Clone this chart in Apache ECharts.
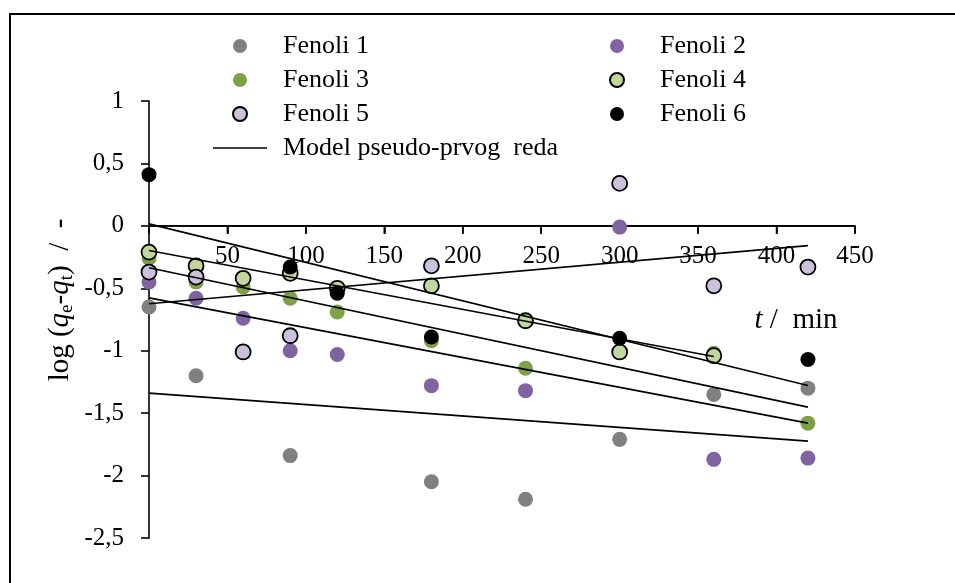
<!DOCTYPE html>
<html>
<head>
<meta charset="utf-8">
<script src="https://cdn.jsdelivr.net/npm/echarts@6/dist/echarts.min.js"></script>
<style>
  html, body { margin: 0; padding: 0; background: #fff; }
  #chart { width: 955px; height: 583px; }
</style>
</head>
<body>
<div id="chart"></div>
<script>
// Sampling times, min
const times = [0, 30, 60, 90, 120, 180, 240, 300, 360, 420];

// log(qe - qt) per phenol sample (null = no measurement)
const fenoli1 = [-0.65, -1.20, null, -1.84, null, -2.05, -2.19, -1.71, -1.35, -1.30];
const fenoli2 = [-0.45, -0.58, -0.74, -1.00, -1.03, -1.28, -1.32, -0.01, -1.87, -1.86];
const fenoli3 = [-0.26, -0.45, -0.49, -0.58, -0.69, -0.92, -1.14, null, -1.02, -1.58];
const fenoli4 = [-0.21, -0.32, -0.42, -0.38, -0.50, -0.48, -0.76, -1.01, -1.04, null];
const fenoli5 = [-0.37, -0.41, -1.01, -0.88, null, -0.32, null, 0.34, -0.48, -0.33];
const fenoli6 = [0.41, null, null, -0.33, -0.54, -0.89, null, -0.90, null, -1.07];

// Pseudo-first-order model lines: value at t = 0 and at the last time point
const modelStartY = [0.016, -0.198, -0.335, -0.577, -1.340, -0.624];
const modelEndT = [420, 360, 420, 420, 420, 420];
const modelEndY = [-1.279, -1.046, -1.452, -1.580, -1.724, -0.158];

// Axis ranges and ticks
const xTicks = { min: 0, max: 450, step: 50 };
const yTicks = { min: -2.5, max: 1, step: 0.5 };

const seriesNames = ['Fenoli 1', 'Fenoli 2', 'Fenoli 3', 'Fenoli 4', 'Fenoli 5', 'Fenoli 6'];
const modelName = 'Model pseudo-prvog  reda';

const FONT = "'Times New Roman', 'Liberation Serif', serif";

// Plot frame (pixels)
const CHART_H = 583;
const PLOT = { left: 149, right: 100, top: 101, bottom: 45 };
const plotH = CHART_H - PLOT.top - PLOT.bottom;
// The time axis crosses the y axis at log(qe-qt) = 0
const zeroLineY = PLOT.top + plotH * (yTicks.max - 0) / (yTicks.max - yTicks.min);

const markerStyles = [
  { color: '#808080', opacity: 1 },
  { color: '#8064a2', opacity: 1 },
  { color: '#7ea046', opacity: 1 },
  { color: '#c3d69b', borderColor: '#000', borderWidth: 1.8, opacity: 1 },
  { color: '#ccc1da', borderColor: '#000', borderWidth: 1.8, opacity: 1 },
  { color: '#000000', opacity: 1 }
];

function pairs(values) {
  const out = [];
  values.forEach((v, i) => { if (v !== null) out.push([times[i], v]); });
  return out;
}

const scatterSeries = [fenoli1, fenoli2, fenoli3, fenoli4, fenoli5, fenoli6].map((vals, i) => ({
  name: seriesNames[i],
  type: 'scatter',
  symbol: 'circle',
  symbolSize: 15,
  itemStyle: markerStyles[i],
  data: pairs(vals),
  z: 2 + i,
  silent: true
}));

const modelSeries = modelStartY.map((y0, i) => ({
  name: modelName,
  type: 'line',
  symbol: 'none',
  lineStyle: { color: '#000', width: 1.6 },
  itemStyle: { color: '#000' },
  data: [[0, y0], [modelEndT[i], modelEndY[i]]],
  z: 10,
  silent: true
}));

// Time axis drawn along y = 0: baseline plus downward tick marks
const zeroTickValues = [];
for (let v = xTicks.min; v <= xTicks.max; v += xTicks.step) zeroTickValues.push([v, 0]);

const zeroAxisSeries = [
  {
    name: 'time-axis-line',
    type: 'line',
    symbol: 'none',
    lineStyle: { color: '#000', width: 1.6 },
    data: [[xTicks.min, 0], [xTicks.max, 0]],
    z: 1,
    silent: true
  },
  {
    name: 'time-axis-ticks',
    type: 'scatter',
    symbol: 'rect',
    symbolSize: [1.6, 8],
    symbolOffset: [0, 4],
    itemStyle: { color: '#000', opacity: 1 },
    data: zeroTickValues,
    z: 1,
    silent: true
  }
];

const legendCommon = {
  orient: 'vertical',
  top: 33,
  padding: 0,
  itemWidth: 54,
  itemHeight: 14,
  itemGap: 8,
  selectedMode: false,
  textStyle: { fontFamily: FONT, fontSize: 26, color: '#000', padding: [0, 0, 0, 11], lineHeight: 25 }
};

const chart = echarts.init(document.getElementById('chart'), null, { renderer: 'canvas' });

chart.setOption({
  animation: false,
  backgroundColor: '#fff',
  grid: [
    { left: PLOT.left, right: PLOT.right, top: PLOT.top, bottom: PLOT.bottom, containLabel: false },
    // upper part of the plot, its bottom edge is the zero line (carries the time labels)
    { left: PLOT.left, right: PLOT.right, top: PLOT.top, bottom: CHART_H - zeroLineY, containLabel: false }
  ],
  legend: [
    Object.assign({}, legendCommon, {
      left: 213,
      data: [
        { name: 'Fenoli 1', icon: 'circle' },
        { name: 'Fenoli 3', icon: 'circle' },
        { name: 'Fenoli 5', icon: 'circle' },
        { name: modelName, icon: 'path://M0 0H100V3H0Z' }
      ]
    }),
    Object.assign({}, legendCommon, {
      left: 609,
      data: [
        { name: 'Fenoli 2', icon: 'circle' },
        { name: 'Fenoli 4', icon: 'circle' },
        { name: 'Fenoli 6', icon: 'circle' }
      ]
    })
  ],
  xAxis: [
    {
      gridIndex: 0,
      type: 'value',
      min: xTicks.min, max: xTicks.max, interval: xTicks.step,
      axisLine: { show: false },
      axisTick: { show: false },
      axisLabel: { show: false },
      splitLine: { show: false }
    },
    {
      gridIndex: 1,
      type: 'value',
      min: xTicks.min, max: xTicks.max, interval: xTicks.step,
      position: 'bottom',
      axisLine: { show: true, onZero: true, lineStyle: { color: '#000', width: 1.6 } },
      axisTick: { show: true, inside: false, length: 8, lineStyle: { color: '#000', width: 1.6 } },
      axisLabel: { showMinLabel: false, margin: 18, fontFamily: FONT, fontSize: 25, color: '#000' },
      splitLine: { show: false }
    }
  ],
  yAxis: [
    {
      gridIndex: 0,
      type: 'value',
      min: yTicks.min, max: yTicks.max, interval: yTicks.step,
      axisLine: { show: true, onZero: false, lineStyle: { color: '#000', width: 1.6 } },
      axisTick: { show: true, inside: false, length: 8, lineStyle: { color: '#000', width: 1.6 } },
      axisLabel: {
        margin: 25, fontFamily: FONT, fontSize: 25, color: '#000',
        formatter: v => String(Math.round(v * 10) / 10).replace('.', ',')
      },
      splitLine: { show: false }
    },
    {
      gridIndex: 1,
      type: 'value',
      min: 0, max: yTicks.max, interval: yTicks.step,
      axisLine: { show: false, onZero: false },
      axisTick: { show: false },
      axisLabel: { show: false },
      splitLine: { show: false }
    }
  ],
  graphic: [
    {
      type: 'rect',
      shape: { x: 10, y: 14, width: 1200, height: 1200 },
      style: { fill: 'none', stroke: '#000', lineWidth: 2 },
      silent: true, z: 0
    },
    {
      type: 'text',
      x: 60, y: 300,
      rotation: Math.PI / 2,
      style: {
        text: '{n|log (}{i|q}{s|e}{n|-}{i|q}{s|t}{n|)  /  -}',
        align: 'center',
        verticalAlign: 'middle',
        rich: {
          n: { fontFamily: FONT, fontSize: 29, fill: '#000', lineHeight: 34, verticalAlign: 'middle' },
          i: { fontFamily: FONT, fontSize: 29, fontStyle: 'italic', fill: '#000', lineHeight: 34, verticalAlign: 'middle' },
          s: { fontFamily: FONT, fontSize: 19, fill: '#000', lineHeight: 34, verticalAlign: 'bottom', padding: [10, 0, 0, 0] }
        }
      },
      silent: true, z: 20
    },
    {
      type: 'text',
      x: 796, y: 320,
      style: {
        text: '{i|t}{n| /  min}',
        align: 'center',
        verticalAlign: 'middle',
        rich: {
          n: { fontFamily: FONT, fontSize: 29, fill: '#000' },
          i: { fontFamily: FONT, fontSize: 29, fontStyle: 'italic', fill: '#000' }
        }
      },
      silent: true, z: 20
    }
  ],
  series: zeroAxisSeries.concat(scatterSeries, modelSeries)
});
</script>
</body>
</html>
